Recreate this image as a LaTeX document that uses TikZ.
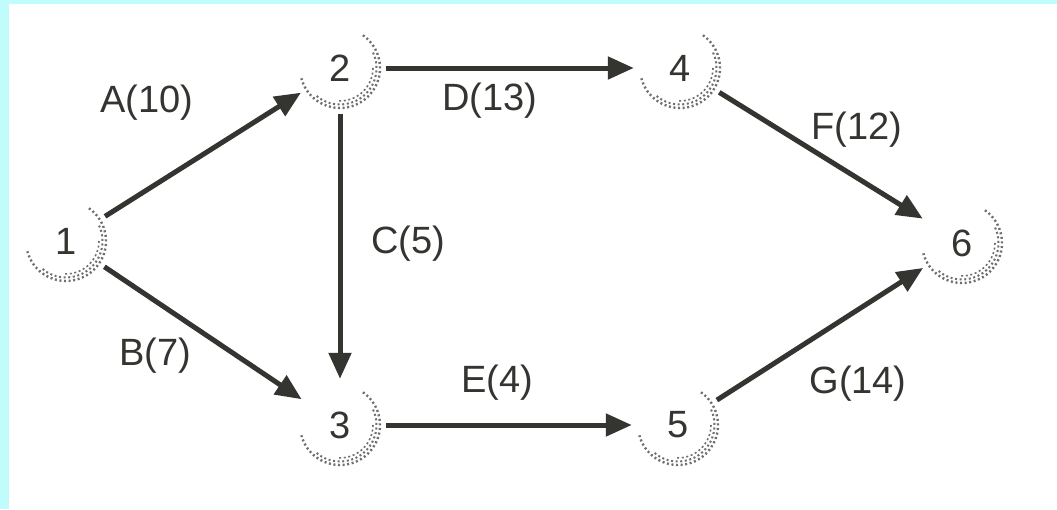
\documentclass[tikz,border=0pt]{standalone}
\usepackage{fontspec}
\setmainfont{Liberation Sans}
\usetikzlibrary{arrows.meta,calc}
\definecolor{bordercyan}{RGB}{192,252,252}
\definecolor{ink}{RGB}{52,52,48}
\definecolor{halftone}{RGB}{110,110,110}
\tikzset{
  evnode/.style={circle, minimum size=92pt, inner sep=0pt, text=ink,
    font=\fontsize{38}{40}\selectfont},
  shadearc/.style={halftone, dash pattern=on 2pt off 2.6pt},
  act/.style={draw=ink, line width=5pt, -{Triangle[length=26pt,width=22pt]}},
  lbl/.style={text=ink, font=\fontsize{38}{40}\selectfont, inner sep=0pt}
}
\begin{document}
\begin{tikzpicture}[x=1pt,y=-1pt]
\useasboundingbox (0,0) rectangle (1057,509);
\fill[bordercyan] (0,0) rectangle (1057,509);
\fill[white] (9,4) rectangle (1057,509);
\node[evnode] (n1) at (66,241) {1};
\node[evnode] (n2) at (340,68) {2};
\node[evnode] (n3) at (340,425) {3};
\node[evnode] (n4) at (680,68) {4};
\node[evnode] (n5) at (678,425) {5};
\node[evnode] (n6) at (962,243) {6};
\foreach \n in {n1,n2,n3,n4,n5,n6}{
  \draw[shadearc, line width=2.4pt] ($(\n.center)+(55:40pt)$) arc[start angle=55, end angle=-165, radius=40pt];
  \draw[shadearc, line width=2pt] ($(\n.center)+(25:36.5pt)$) arc[start angle=25, end angle=-130, radius=36.5pt];
  \draw[shadearc, line width=1.6pt] ($(\n.center)+(0:33pt)$) arc[start angle=0, end angle=-95, radius=33pt];
}
\draw[act] (n1) -- (n2);
\draw[act] (n1) -- (n3);
\draw[act] (n2) -- (n3);
\draw[act] (n2) -- (n4);
\draw[act] (n3) -- (n5);
\draw[act] (n4) -- (n6);
\draw[act] (n5) -- (n6);
\node[lbl] (la) at (147,103) {A(10)};
\node[lbl] (lb) at (155,356) {B(7)};
\node[lbl] (lc) at (408,244) {C(5)};
\node[lbl] (ld) at (490,101) {D(13)};
\node[lbl] (le) at (497,383) {E(4)};
\node[lbl] (lf) at (857,130) {F(12)};
\node[lbl] (lg) at (858,384) {G(14)};
\end{tikzpicture}
\end{document}
